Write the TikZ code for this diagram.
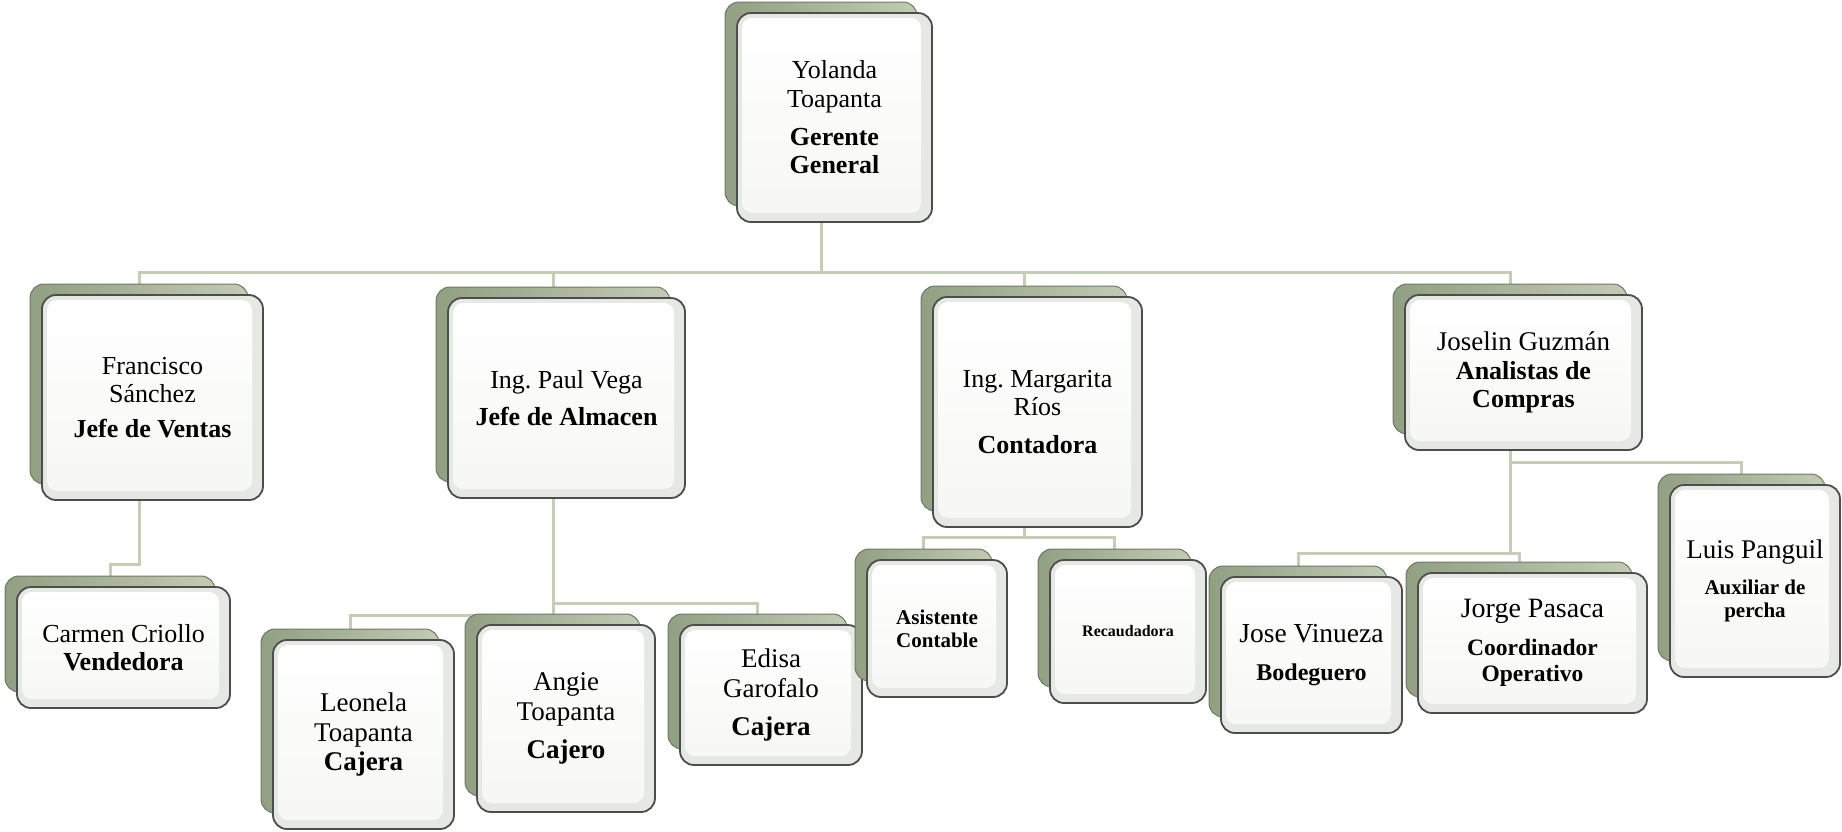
\documentclass[tikz,border=0pt]{standalone}
\usepackage{fontspec}
\setmainfont{Liberation Serif}
\usetikzlibrary{backgrounds,calc}
\definecolor{linkc}{HTML}{C3CEB5}
\definecolor{bkdraw}{HTML}{6E7A64}
\definecolor{bkL}{HTML}{919F82}
\definecolor{bkR}{HTML}{C2CBB4}
\definecolor{frdraw}{HTML}{4D4D4D}
\definecolor{frfill}{HTML}{E6E9E3}
\definecolor{frin}{HTML}{F6F7F4}
\tikzset{
  backbox/.style={draw=bkdraw, line width=1pt, rounded corners=14pt,
    left color=bkL, right color=bkR, inner sep=0pt, outer sep=0pt},
  frontbox/.style={draw=frdraw, line width=1.8pt, rounded corners=14pt,
    fill=frfill, inner sep=0pt, outer sep=0pt, align=flush center,
    path picture={\fill[top color=white, bottom color=frin, rounded corners=10pt]
      ([xshift=5pt,yshift=-5pt]path picture bounding box.north west) rectangle
      ([xshift=-11pt,yshift=9pt]path picture bounding box.south east);}},
  link/.style={draw=linkc, line width=3pt},
}
\newcommand{\orgbox}[7]{%
  \pgfmathsetmacro\oBx{(#2+#4)/2}\pgfmathsetmacro\oBy{(#3+#5)/2}%
  \pgfmathsetmacro\oBw{#4-#2}\pgfmathsetmacro\oBh{#5-#3}%
  \pgfmathsetmacro\oBbw{#4-#2-3}\pgfmathsetmacro\oBbh{#5-#3-5}%
  \pgfmathsetmacro\oBtw{#4-#2-14}%
  \pgfmathsetmacro\oBbx{\oBx-13.5}\pgfmathsetmacro\oBby{\oBy-13.5}%
  \pgfmathsetmacro\oBls{1.1*#6}%
  \node[backbox, minimum width=\oBbw pt, minimum height=\oBbh pt] (#1b) at (\oBbx,\oBby) {};
  \node[frontbox, minimum width=\oBw pt, minimum height=\oBh pt, text width=\oBtw pt,
    font=\fontsize{#6}{\oBls}\selectfont\frenchspacing] (#1) at (\oBx,\oBy) {#7};
}
\begin{document}
\begin{tikzpicture}[x=1pt,y=-1pt]
\useasboundingbox (0,0) rectangle (1842,831);

\orgbox{yol}{737}{13}{932}{222}{26}{Yolanda\\Toapanta\\[9pt]\textbf{Gerente\\General}}
\orgbox{fra}{42}{295}{263}{500}{26}{Francisco\\Sánchez\\[6pt]\textbf{Jefe de Ventas}}
\orgbox{pau}{448}{298}{685}{498}{26}{Ing. Paul Vega\\[8pt]\textbf{Jefe de Almacen}}
\orgbox{mar}{933}{297}{1142}{527}{26}{Ing. Margarita\\Ríos\\[9pt]\textbf{Contadora}}
\orgbox{jos}{1405}{295}{1642}{450}{26}{{\fontsize{27}{28}\selectfont Joselin Guzmán}\\\textbf{Analistas de\\Compras}}
\orgbox{car}{17}{587}{230}{708}{26}{Carmen Criollo\\\textbf{Vendedora}}
\orgbox{leo}{273}{640}{454}{829}{27}{Leonela\\Toapanta\\\textbf{Cajera}}
\orgbox{ang}{477}{625}{655}{812}{27}{Angie\\Toapanta\\[9pt]\textbf{Cajero}}
\orgbox{edi}{680}{625}{862}{765}{27}{Edisa\\Garofalo\\[9pt]\textbf{Cajera}}
\orgbox{asi}{867}{560}{1007}{697}{21}{\textbf{Asistente\\Contable}}
\orgbox{rec}{1050}{560}{1206}{703}{16}{\textbf{Recaudadora}}
\orgbox{jov}{1221}{577}{1402}{733}{27.5}{Jose Vinueza\\[8pt]{\fontsize{24}{24}\selectfont\bfseries Bodeguero}}
\orgbox{jor}{1418}{573}{1647}{713}{28}{Jorge Pasaca\\[12pt]{\fontsize{23.5}{26}\selectfont\bfseries Coordinador\\Operativo\par}}
\orgbox{lui}{1670}{485}{1840}{677}{27}{Luis Panguil\\[12pt]{\fontsize{21}{23.5}\selectfont\bfseries Auxiliar de\\percha\par}}

\coordinate (Lmain) at (0,272);
\coordinate (Lfra) at (0,564);
\coordinate (Lpau1) at (0,603);
\coordinate (Lpau2) at (0,615);
\coordinate (Lmar) at (0,537);
\coordinate (Ljos1) at (0,462);
\coordinate (Ljos2) at (0,553);

\begin{scope}[on background layer]
\draw[link] (yolb.south) -- (yolb.south |- Lmain);
\draw[link] (frab.north) |- (josb.north |- Lmain) -- (josb.north);
\draw[link] (paub.north) -- (paub.north |- Lmain);
\draw[link] (marb.north) -- (marb.north |- Lmain);
\draw[link] (frab.south) -- (frab.south |- Lfra) -| (carb.north);
\draw[link] (paub.south) -- (paub.south |- angb.north);
\draw[link] (paub.south |- Lpau2) -| (leob.north);
\draw[link] (paub.south |- Lpau1) -| (edib.north);
\draw[link] (marb.south) -- (marb.south |- Lmar) -| (asib.north);
\draw[link] (marb.south |- Lmar) -| (recb.north);
\draw[link] (josb.south) -- (josb.south |- Ljos2) -| (jovb.north);
\draw[link] (josb.south |- Ljos1) -| (luib.north);
\draw[link] (josb.south |- Ljos2) -| (jorb.north);
\end{scope}
\end{tikzpicture}
\end{document}
